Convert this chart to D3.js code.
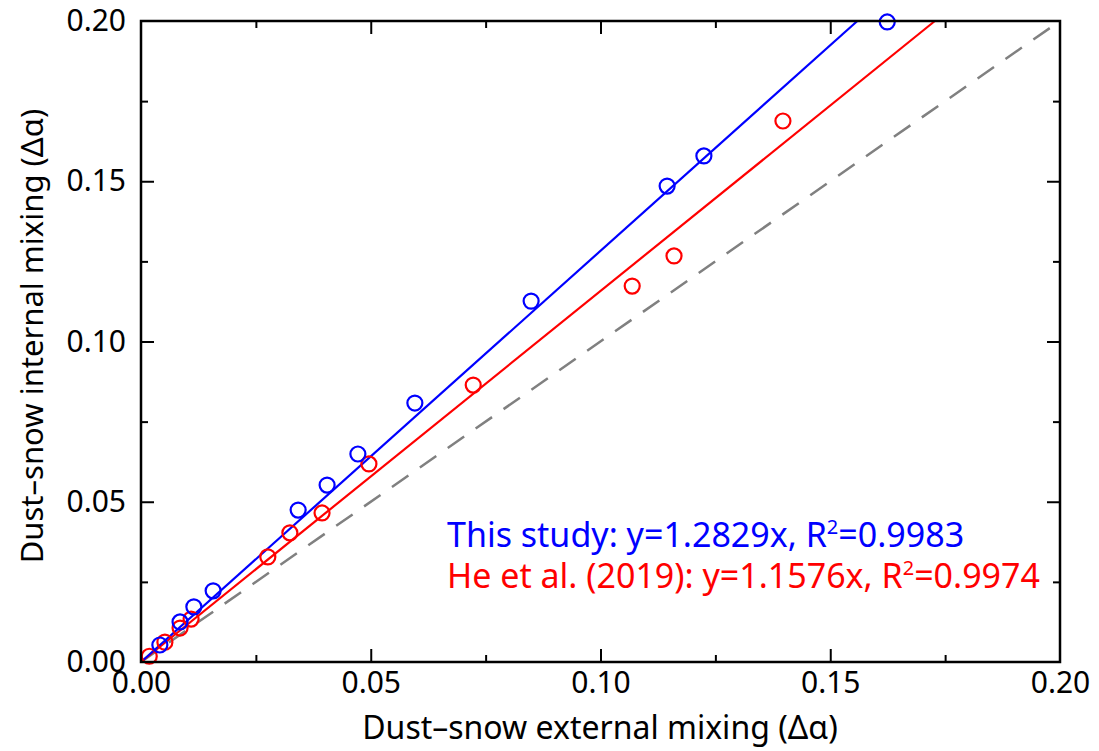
<!DOCTYPE html>
<html>
<head>
<meta charset="utf-8">
<script src="https://cdn.jsdelivr.net/npm/d3@7"></script>
<style>
  body { margin: 0; background: #fff; }
  svg text { font-family: "Noto Sans", "Open Sans", sans-serif; }
</style>
</head>
<body>
<div id="chart"></div>
<script>
// dados
const studyX = [0.0041, 0.0085, 0.0115, 0.0157, 0.0342, 0.0405, 0.0472, 0.0596, 0.0849, 0.1145, 0.1225, 0.1624];
const studyY = [0.0053, 0.0125, 0.0172, 0.0222, 0.0474, 0.0552, 0.0649, 0.0808, 0.1126, 0.1485, 0.1579, 0.1997];
const heX = [0.0018, 0.0052, 0.0085, 0.0109, 0.0276, 0.0324, 0.0394, 0.0496, 0.0723, 0.1069, 0.1160, 0.1397];
const heY = [0.0018, 0.0062, 0.0106, 0.0134, 0.0328, 0.0403, 0.0465, 0.0618, 0.0864, 0.1173, 0.1267, 0.1688];
const slopes = { study: 1.2829, he: 1.1576 };
const majorTicks = [0, 0.05, 0.10, 0.15, 0.20];
const minorTicks = [0.025, 0.075, 0.125, 0.175];

const margin = { top: 21, right: 39, bottom: 89, left: 141 },
      W = 1099, H = 751,
      width = W - margin.left - margin.right,
      height = H - margin.top - margin.bottom;

const svg = d3.select('#chart').append('svg')
    .attr('width', W)
    .attr('height', H);

const g = svg.append('g')
    .attr('transform', `translate(${margin.left},${margin.top})`);

const x = d3.scaleLinear().domain([0, 0.2]).range([0, width]);
const y = d3.scaleLinear().domain([0, 0.2]).range([height, 0]);

const fmt = d3.format('.2f');

// eixos com ticks para dentro
function axes(axisFn, scale, transform, ticks, size, labels) {
    const a = g.append('g')
        .attr('transform', transform)
        .call(axisFn(scale).tickValues(ticks).tickSize(-size).tickSizeOuter(0)
              .tickFormat(labels ? fmt : ''));
    a.select('.domain').remove();
    a.selectAll('line').attr('stroke', '#000').attr('stroke-width', 2);
    return a;
}

const bx = axes(d3.axisBottom, x, `translate(0,${height})`, majorTicks, 13, true);
axes(d3.axisBottom, x, `translate(0,${height})`, minorTicks, 7, false);
axes(d3.axisTop, x, 'translate(0,0)', majorTicks, 13, false);
axes(d3.axisTop, x, 'translate(0,0)', minorTicks, 7, false);
const ly = axes(d3.axisLeft, y, 'translate(0,0)', majorTicks, 13, true);
axes(d3.axisLeft, y, 'translate(0,0)', minorTicks, 7, false);
axes(d3.axisRight, y, `translate(${width},0)`, majorTicks, 13, false);
axes(d3.axisRight, y, `translate(${width},0)`, minorTicks, 7, false);

bx.selectAll('text').attr('y', 10).attr('font-size', 30).attr('fill', '#000')
    .style('font-family', '"Noto Sans", sans-serif');
ly.selectAll('text').attr('x', -15).attr('font-size', 30).attr('fill', '#000')
    .style('font-family', '"Noto Sans", sans-serif');
// esconder ticks que coincidem com a moldura
g.selectAll('.tick line').filter(d => d === 0 || d === 0.2).remove();

// linha 1:1 tracejada
g.append('line')
    .attr('x1', x(0)).attr('y1', y(0))
    .attr('x2', x(0.2)).attr('y2', y(0.2))
    .attr('stroke', '#808080')
    .attr('stroke-width', 2.5)
    .attr('stroke-dasharray', '20,14');

// retas de ajuste
function fitLine(k, color) {
    const xEnd = Math.min(0.2, 0.2 / k);
    g.append('line')
        .attr('x1', x(0)).attr('y1', y(0))
        .attr('x2', x(xEnd)).attr('y2', y(k * xEnd))
        .attr('stroke', color)
        .attr('stroke-width', 2.2);
}
fitLine(slopes.he, '#ff0000');
fitLine(slopes.study, '#0000ff');

function points(xs, ys, color) {
    g.selectAll(null)
        .data(xs.map((v, i) => [v, ys[i]]))
        .enter()
        .append('circle')
        .attr('cx', d => x(d[0]))
        .attr('cy', d => y(d[1]))
        .attr('r', 7.5)
        .attr('fill', 'none')
        .attr('stroke', color)
        .attr('stroke-width', 2.2);
}
points(heX, heY, '#ff0000');
points(studyX, studyY, '#0000ff');

// moldura
g.append('rect')
    .attr('width', width).attr('height', height)
    .attr('fill', 'none')
    .attr('stroke', '#000')
    .attr('stroke-width', 2.5);

// rótulos dos eixos
svg.append('text')
    .attr('x', 600)
    .attr('y', 739)
    .attr('text-anchor', 'middle')
    .attr('font-size', 32)
    .text('Dust–snow external mixing (Δα)');

svg.append('text')
    .attr('transform', 'translate(43,336) rotate(-90)')
    .attr('text-anchor', 'middle')
    .attr('font-size', 31)
    .text('Dust–snow internal mixing (Δα)');

// anotações
function note(yPos, color, label, k, r2) {
    const t = svg.append('text')
        .attr('x', 447).attr('y', yPos)
        .attr('font-size', 34)
        .attr('fill', color);
    t.append('tspan').text(`${label}: y=${k}x, R`);
    t.append('tspan').attr('dy', -13).attr('font-size', 20).text('2');
    t.append('tspan').attr('dy', 13).text(`=${r2}`);
}
note(547, '#0000ff', 'This study', slopes.study, '0.9983');
note(588, '#ff0000', 'He et al. (2019)', slopes.he, '0.9974');
</script>
</body>
</html>
